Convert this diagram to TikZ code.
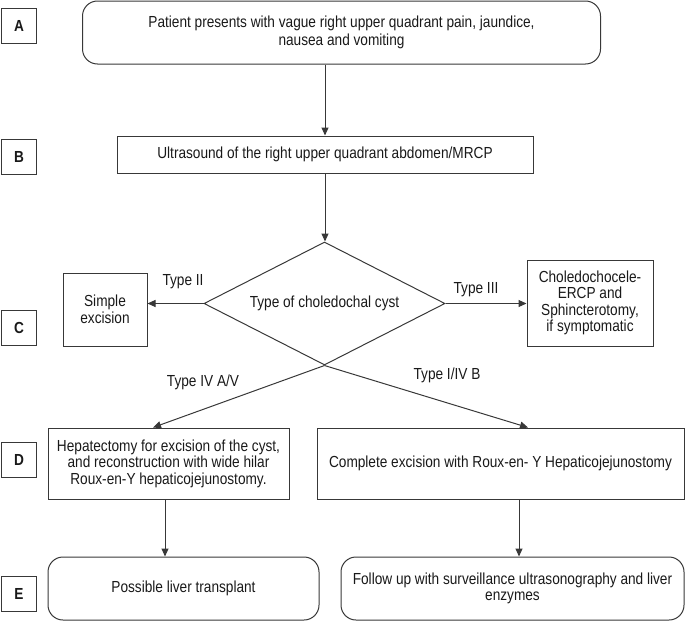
\documentclass[tikz,border=0pt]{standalone}
\usepackage{fontspec}
\setmainfont{Liberation Sans}[FakeStretch=0.853]
\usetikzlibrary{arrows.meta,shapes.geometric}
\begin{document}
\begin{tikzpicture}[x=1pt,y=-1pt,
  line width=1pt,
  every node/.style={font=\fontsize{16}{16.5}\selectfont, align=center, inner sep=0pt, text=black!90},
  ln/.style={draw=black!78},
  arr/.style={ln,-{Triangle[length=8pt,width=7pt]}},
  sq/.style={ln,rectangle,minimum width=#1,minimum height=35},
  rbox/.style={ln,rectangle,rounded corners=15pt,minimum width=#1},
  lab/.style={ln,rectangle,minimum width=35,minimum height=35,font=\fontsize{16}{16}\selectfont\bfseries},
  tlab/.style={font=\fontsize{16}{16}\selectfont}
]
\useasboundingbox (0,0) rectangle (685,621);

% side labels
\node[lab] (LA) at (19,26) {A};
\node[lab] (LB) at (19,157) {B};
\node[lab] (LC) at (19,328) {C};
\node[lab] (LD) at (19,460) {D};
\node[lab] (LE) at (19,594) {E};

% boxes
\node[rbox=518, minimum height=63] (A) at (341.5,32.5)
  {Patient presents with vague right upper quadrant pain, jaundice,\\[1.5pt]nausea and vomiting};
\node[sq=416, minimum height=37] (B) at (325,154.5)
  {Ultrasound of the right upper quadrant abdomen/MRCP};
\node[ln, diamond, aspect=2, minimum width=241, minimum height=123] (dia) at (324.5,303.5)
  {Type of choledochal cyst};
\node[sq=84, minimum height=73] (S) at (105,309.5) {Simple\\excision};
\node[sq=126, minimum height=86] (CH) at (590,303)
  {Choledochocele-\\ERCP and\\Sphincterotomy,\\if symptomatic};
\node[sq=241, minimum height=71] (DL) at (168.5,463.5)
  {Hepatectomy for excision of the cyst,\\and reconstruction with wide hilar\\Roux-en-Y hepaticojejunostomy.};
\node[sq=367, minimum height=71] (DR) at (500.5,463.5)
  {Complete excision with Roux-en- Y Hepaticojejunostomy};
\node[rbox=271, minimum height=63] (EL) at (183.5,588.5) {Possible liver transplant};
\node[rbox=343, minimum height=63] (ER) at (512.5,588.5)
  {Follow up with surveillance ultrasonography and liver\\enzymes};

% connectors
\draw[arr] (A.south -| B.north) -- (B.north);
\draw[arr] (B.south) -- (B.south |- dia.north);
\draw[arr] (dia.west) -- (dia.west -| S.east);
\draw[arr] (dia.east) -- (dia.east -| CH.west);
\draw[arr] (dia.south) -- ([xshift=-15.5pt]DL.north);
\draw[arr] (dia.south) -- ([xshift=27.5pt]DR.north);
\draw[arr] ([xshift=-3.5pt]DL.south) -- ([xshift=-3.5pt]DL.south |- EL.north);
\draw[arr] ([xshift=18.5pt]DR.south) -- ([xshift=18.5pt]DR.south |- ER.north);

% edge labels
\node[tlab] (t2) at (183,282) {Type II};
\node[tlab] (t3) at (476,290) {Type III};
\node[tlab] (t4) at (203,382) {Type IV A/V};
\node[tlab] (t1) at (447,375) {Type I/IV B};
\end{tikzpicture}
\end{document}
